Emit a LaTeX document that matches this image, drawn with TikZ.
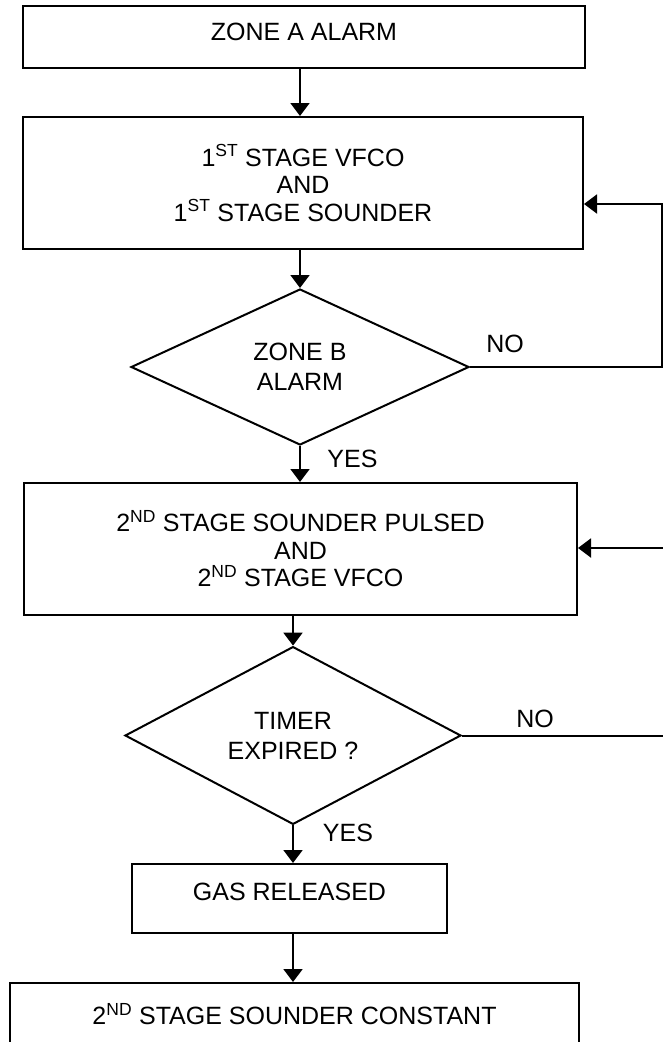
\documentclass[tikz,border=0pt]{standalone}
\usepackage{fontspec}
\setmainfont{Liberation Sans}
\usetikzlibrary{shapes.geometric,arrows.meta}
\begin{document}
\begin{tikzpicture}[x=1pt,y=-1pt,
  every node/.style={font=\fontsize{25}{27.5}\selectfont},
  box/.style={draw, line width=2pt, rectangle, align=center, inner sep=0pt},
  dia/.style={draw, line width=2pt, diamond, align=center, inner sep=0pt,
              font=\fontsize{25}{30}\selectfont},
  arr/.style={line width=2pt, -{Triangle[length=13pt,width=19pt]}},
  ln/.style={line width=2pt},
  lbl/.style={inner sep=0pt}]
\useasboundingbox (0,0) rectangle (663,1042);

% boxes
\node[box, minimum width=562pt, minimum height=62pt] (b1) at (304,37)
  {\raisebox{5pt}[\height][\depth]{ZONE A ALARM}};
\node[box, minimum width=560pt, minimum height=132pt] (b2) at (303,183)
  {1\textsuperscript{ST} STAGE VFCO\\AND\\1\textsuperscript{ST} STAGE SOUNDER};
\node[dia, minimum width=338pt, minimum height=156pt] (d1) at (300,367)
  {ZONE B\\ALARM};
\node[box, minimum width=553pt, minimum height=132pt] (b3) at (300.5,549)
  {2\textsuperscript{ND} STAGE SOUNDER PULSED\\AND\\2\textsuperscript{ND} STAGE VFCO};
\node[dia, minimum width=336pt, minimum height=155pt] (d2) at (293,735.5)
  {TIMER\\EXPIRED ?};
\node[box, minimum width=315pt, minimum height=69pt] (b4) at (289.5,898.5)
  {\raisebox{7pt}[\height][\depth]{GAS RELEASED}};
\node[box, minimum width=569pt, minimum height=62pt] (b5) at (294.5,1014)
  {2\textsuperscript{ND} STAGE SOUNDER CONSTANT};

% labels
\node[lbl] (no1) at (505,344) {NO};
\node[lbl] (yes1) at (352.5,458.5) {YES};
\node[lbl] (no2) at (535,719) {NO};
\node[lbl] (yes2) at (348,832.5) {YES};

% loop coordinates
\coordinate (r1) at (662,204);
\coordinate (e2) at (663,735.5);
\coordinate (e3) at (663,548);

% connectors
\draw[arr] (b1.south -| d1.north) -- (b2.north -| d1.north);
\draw[arr] (b2.south -| d1.north) -- (d1.north);
\draw[arr] (d1.south) -- (d1.south |- b3.north);
\draw[arr] (b3.south -| d2.north) -- (d2.north);
\draw[arr] (d2.south) -- (d2.south |- b4.north);
\draw[arr] (b4.south -| d2.south) -- (b5.north -| d2.south);
\draw[arr] (d1.east) -| (r1) -- (r1 -| b2.east);
\draw[ln] (d2.east) -- (e2);
\draw[arr] (e3) -- (e3 -| b3.east);
\end{tikzpicture}
\end{document}
